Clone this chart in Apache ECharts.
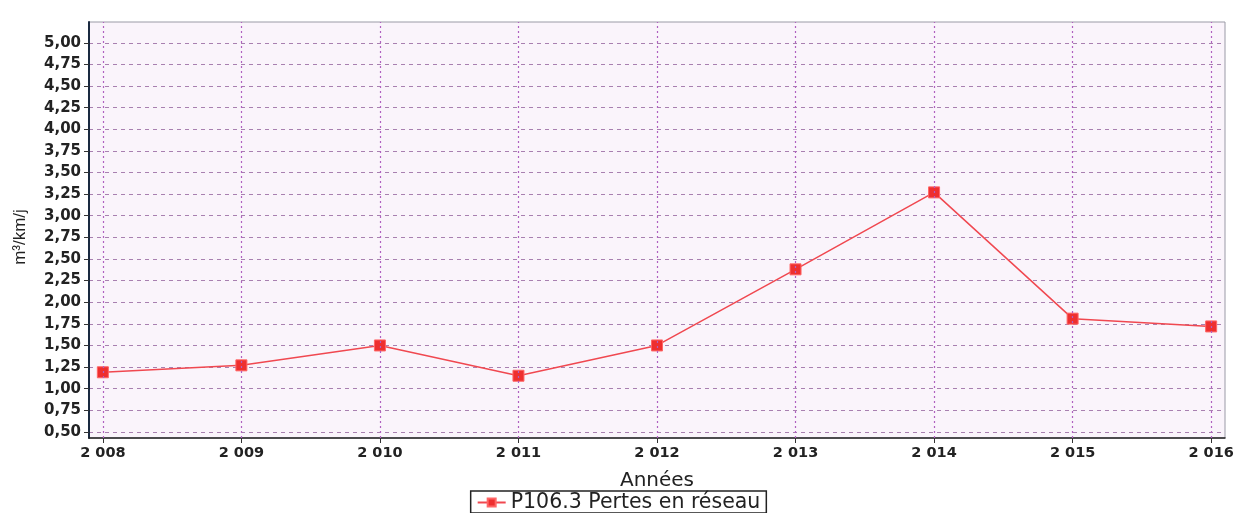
<!DOCTYPE html>
<html><head><meta charset="utf-8">
<script src="https://cdn.jsdelivr.net/npm/echarts@6/dist/echarts.min.js"></script>
<style>html,body{margin:0;padding:0;background:#fff}#c{width:1237px;height:513px}</style>
</head><body><div id="c"></div>
<script>
const years = [2008, 2009, 2010, 2011, 2012, 2013, 2014, 2015, 2016];
const values = [1.19, 1.27, 1.50, 1.15, 1.50, 2.38, 3.27, 1.81, 1.72];
const yTicks = [0.5, 0.75, 1.0, 1.25, 1.5, 1.75, 2.0, 2.25, 2.5, 2.75, 3.0, 3.25, 3.5, 3.75, 4.0, 4.25, 4.5, 4.75, 5.0];
const seriesName = 'P106.3 Pertes en réseau';
const xName = 'Années';
const yName = 'm³/km/j';

const chart = echarts.init(document.getElementById('c'), null, {renderer: 'canvas'});
const fmtYear = v => { const s = String(v); return s[0] + ' ' + s.slice(1); };
const fmtY = v => v.toFixed(2).replace('.', ',');
chart.setOption({
  animation: false,
  backgroundColor: '#ffffff',
  grid: {left: 89, right: 12, top: 22, bottom: 75, outerBoundsMode: 'none', containLabel: false, show: true, backgroundColor: '#faf4fb', borderColor: '#9a9aa6', borderWidth: 1},
  legend: {
    bottom: 0, left: 'center', itemWidth: 28, itemHeight: 10, itemGap: 6,
    borderColor: '#222', borderWidth: 1.5, padding: [1, 6, 0, 6], borderRadius: 0,
    textStyle: {fontFamily: 'DejaVu Sans', fontSize: 20.5, color: '#222'},
    data: [{name: seriesName}]
  },
  xAxis: {
    type: 'value', min: 2007.9, max: 2016.1,
    name: xName, nameLocation: 'middle', nameGap: 33,
    nameTextStyle: {fontFamily: 'DejaVu Sans', fontSize: 20, color: '#222'},
    axisLine: {show: true, lineStyle: {color: '#222', width: 1.5}},
    axisTick: {show: true, customValues: years, length: 5, lineStyle: {color: '#333'}},
    axisLabel: {customValues: years, formatter: fmtYear, fontFamily: 'DejaVu Sans', fontWeight: 'bold', fontSize: 14.5, color: '#222', margin: 8},
    splitLine: {show: false}
  },
  yAxis: {
    type: 'value', min: 0.43, max: 5.24,
    name: yName, nameLocation: 'middle', nameGap: 60, nameRotate: 90,
    nameTextStyle: {fontFamily: 'Liberation Sans Narrow, Liberation Sans', fontSize: 17, color: '#222', padding: [0, 0, 0, -14]},
    axisLine: {show: true, lineStyle: {color: '#1a2a40', width: 2}},
    axisTick: {show: true, customValues: yTicks, length: 5, lineStyle: {color: '#333'}},
    axisLabel: {customValues: yTicks, formatter: fmtY, fontFamily: 'DejaVu Sans', fontWeight: 'bold', fontSize: 15, color: '#222', margin: 8},
    splitLine: {show: true, lineStyle: {color: '#a880b0', type: [4, 4], width: 1}}
  },
  series: [
    {
      type: 'line', name: seriesName,
      data: years.map((y, i) => [y, values[i]]),
      symbol: 'rect', symbolSize: 11,
      lineStyle: {color: '#f04850', width: 1.5},
      itemStyle: {color: '#ee2f2f', borderColor: '#ff6666', borderWidth: 1},
      markLine: {
        silent: true, symbol: 'none', label: {show: false},
        lineStyle: {color: '#b060c0', type: [2, 3], width: 1.2},
        data: years.map(y => ({xAxis: y}))
      }
    }
  ]
});
</script></body></html>
